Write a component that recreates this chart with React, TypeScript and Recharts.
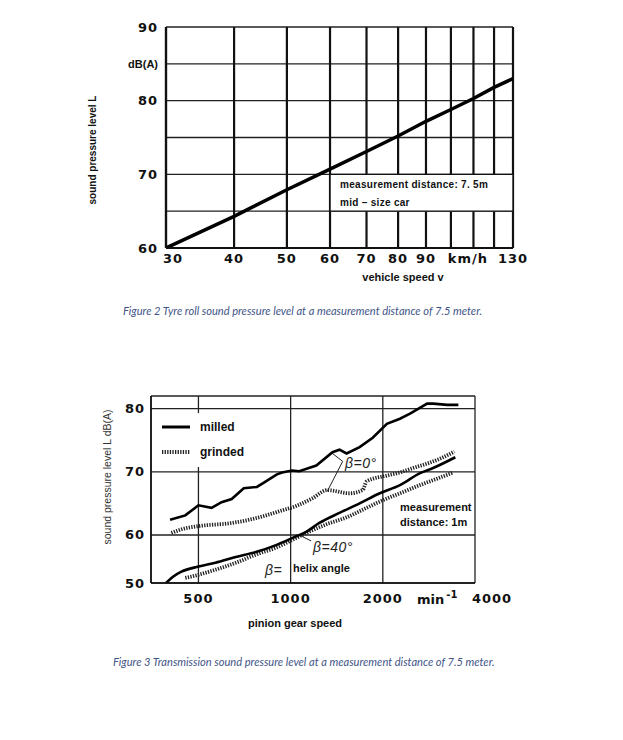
import React from 'react';
import { LineChart, Line, XAxis, YAxis, CartesianGrid, ReferenceArea, ReferenceLine } from 'recharts';

// Figure 2 - tyre roll noise vs vehicle speed
const vehicleSpeed = [30, 40, 50, 60, 70, 80, 90, 100, 110, 120, 130];
const tyreLevel = [60, 64.3, 67.9, 70.7, 73.1, 75.2, 77.2, 78.8, 80.3, 81.8, 83.0];
const speedTicks = [30, 40, 50, 60, 70, 80, 90, 100, 110, 120, 130];
const speedTickLabels = ['30', '40', '50', '60', '70', '80', '90', 'km/h', '', '', '130'];
const tyreLevelTicks = [60, 65, 70, 75, 80, 85, 90];
const tyreLevelTickLabels = ['60', '', '70', '', '80', 'dB(A)', '90'];

// Figure 3 - transmission noise vs pinion gear speed
const milled0Speed = [404, 453, 500, 552, 595, 642, 703, 776, 818, 902, 938, 1011, 1067, 1213, 1370, 1444, 1523, 1680, 1854, 2062, 2275, 2454, 2791, 2920, 3247, 3530];
const milled0Level = [62.4, 63.1, 64.7, 64.3, 65.2, 65.7, 67.4, 67.6, 68.3, 69.6, 69.9, 70.2, 70.1, 71.0, 73.1, 73.5, 72.9, 73.9, 75.4, 77.6, 78.4, 79.2, 80.8, 80.8, 80.6, 80.6];
const grinded0Speed = [408, 440, 500, 642, 730, 831, 938, 1043, 1177, 1317, 1557, 1718, 1772, 2062, 2275, 2510, 2791, 3080, 3425];
const grinded0Level = [60.3, 60.9, 61.4, 61.9, 62.4, 63.1, 63.9, 64.6, 65.8, 67.1, 66.6, 67.1, 68.5, 69.4, 69.9, 70.6, 71.3, 72.1, 73.2];
const milled40Speed = [392, 413, 440, 500, 568, 662, 770, 896, 1011, 1124, 1241, 1444, 1680, 1955, 2275, 2647, 2920, 3450];
const milled40Level = [52.4, 53.4, 54.2, 55.0, 55.6, 56.5, 57.3, 58.4, 59.5, 60.5, 61.9, 63.5, 65.0, 66.6, 67.9, 69.8, 70.6, 72.3];
const grinded40Speed = [453, 500, 568, 662, 770, 896, 1011, 1124, 1309, 1523, 1772, 2000, 2275, 2647, 3080, 3400];
const grinded40Level = [53.2, 53.7, 54.5, 55.6, 56.9, 58.0, 59.2, 60.3, 61.7, 62.8, 64.3, 65.5, 66.6, 67.9, 69.1, 69.9];
const gearTicks = [500, 1000, 2000, 4000];
const gearTickLabels = ['500', '1000', '2000', '4000'];
const gearLevelTicks = [52.4, 60, 70, 80, 82];
const gearLevelTickLabels = ['50', '60', '70', '80', ''];

// leader lines of the beta annotations (data coordinates)
const beta0LeaderA = [{ x: 1370, y: 72.9 }, { x: 1479, y: 71.65 }];
const beta0LeaderB = [{ x: 1479, y: 71.65 }, { x: 1317, y: 66.9 }];
const beta40Leader = [{ x: 1067, y: 60 }, { x: 1167, y: 59.05 }];

const rows = (xs: number[], ys: number[]) => xs.map((x, i) => ({ x, y: ys[i] }));
const tyreRows = rows(vehicleSpeed, tyreLevel);

const tickStyle: React.CSSProperties = {
  fontFamily: '"DejaVu Sans", sans-serif',
  fontWeight: 'bold',
  fontSize: 13,
  letterSpacing: 1,
  fill: '#111',
};

const SpeedTick = (props: any) => {
  const { x, y, payload } = props;
  const label = speedTickLabels[speedTicks.indexOf(payload.value)];
  if (!label) return <g />;
  const dx = label === 'km/h' ? 17 : label === '30' ? 7 : 0;
  return (
    <text x={x + dx} y={y + 10} textAnchor="middle" dominantBaseline="central" style={tickStyle}>
      {label}
    </text>
  );
};

const TyreLevelTick = (props: any) => {
  const { x, y, payload } = props;
  const label = tyreLevelTickLabels[tyreLevelTicks.indexOf(payload.value)];
  if (!label) return <g />;
  const style = label === 'dB(A)' ? { ...tickStyle, fontFamily: '"Liberation Sans", Arial', fontSize: 11, letterSpacing: 0 } : tickStyle;
  return (
    <text x={x - 8} y={y} textAnchor="end" dominantBaseline="central" style={style}>
      {label}
    </text>
  );
};

const GearTick = (props: any) => {
  const { x, y, payload } = props;
  const label = gearTickLabels[gearTicks.indexOf(payload.value)];
  const dx = label === '4000' ? 17 : 0;
  return (
    <text x={x + dx} y={y + 15} textAnchor="middle" dominantBaseline="central" style={tickStyle}>
      {label}
    </text>
  );
};

const GearLevelTick = (props: any) => {
  const { x, y, payload } = props;
  const label = gearLevelTickLabels[gearLevelTicks.indexOf(payload.value)];
  if (!label) return <g />;
  return (
    <text x={x - 6} y={y} textAnchor="end" dominantBaseline="central" style={tickStyle}>
      {label}
    </text>
  );
};

// absolutely placed text, page coordinates (body margin is 8px)
const Txt = ({ x, y, children, style, center, rotate }: any) => (
  <div
    style={{
      position: 'absolute',
      left: x - 8,
      top: y - 8,
      whiteSpace: 'nowrap',
      lineHeight: 1,
      transform: `translate(${center ? '-50%' : '0'}, -50%)${rotate ? ' rotate(-90deg)' : ''}`,
      ...style,
    }}
  >
    {children}
  </div>
);

const bold = { fontWeight: 'bold', color: '#111' };
const caption = { fontFamily: 'Lato, sans-serif', fontStyle: 'italic', fontSize: 11.1, color: '#3f5587' };
const beta = { fontFamily: '"Liberation Sans", Arial', fontStyle: 'italic', fontSize: 14, color: '#222', letterSpacing: 0.5 };
const hatch = { stroke: '#222', strokeWidth: 3.8, strokeDasharray: '1.3 1.3' };

export default function App() {
  return (
    <div style={{ position: 'relative', width: 607, height: 724, fontFamily: '"Liberation Sans", Arial, sans-serif' }}>
      <div style={{ position: 'absolute', left: 0, top: 0 }}>
        <LineChart width={607} height={300} margin={{ top: 19, right: 102, bottom: 30, left: 118 }}>
          <CartesianGrid vertical={false} stroke="#222" strokeWidth={1.4} />
          <CartesianGrid horizontal={false} stroke="#111" strokeWidth={2.2} />
          <XAxis
            dataKey="x"
            type="number"
            scale="log"
            domain={[30, 130]}
            allowDataOverflow
            ticks={speedTicks}
            interval={0}
            tick={<SpeedTick />}
            tickSize={0}
            tickMargin={0}
            height={30}
            axisLine={{ stroke: '#111', strokeWidth: 2.2 }}
          />
          <YAxis
            type="number"
            domain={[60, 90]}
            allowDataOverflow
            ticks={tyreLevelTicks}
            interval={0}
            tick={<TyreLevelTick />}
            tickSize={0}
            tickMargin={0}
            width={40}
            axisLine={{ stroke: '#111', strokeWidth: 2.2 }}
          />
          <ReferenceArea x1={60} x2={130} y1={65} y2={70} fill="#fff" fillOpacity={1} stroke="#111" strokeWidth={1.4} />
          <Line data={tyreRows} dataKey="y" type="linear" stroke="#000" strokeWidth={3.5} dot={false} isAnimationActive={false} />
        </LineChart>
      </div>

      <div style={{ position: 'absolute', left: 0, top: 322 }}>
        <LineChart width={607} height={300} margin={{ top: 66, right: 140, bottom: 22, left: 103 }}>
          <CartesianGrid stroke="#222" strokeWidth={1.3} />
          <XAxis
            dataKey="x"
            type="number"
            scale="log"
            domain={[350, 4000]}
            allowDataOverflow
            ticks={gearTicks}
            interval={0}
            tick={<GearTick />}
            tickSize={0}
            tickMargin={0}
            height={25}
            axisLine={{ stroke: '#111', strokeWidth: 1.6 }}
          />
          <YAxis
            type="number"
            domain={[52.4, 82]}
            allowDataOverflow
            ticks={gearLevelTicks}
            interval={0}
            tick={<GearLevelTick />}
            tickSize={0}
            tickMargin={0}
            width={40}
            axisLine={{ stroke: '#111', strokeWidth: 1.6 }}
          />
          <ReferenceLine segment={beta0LeaderA} stroke="#222" strokeWidth={1} />
          <ReferenceLine segment={beta0LeaderB} stroke="#222" strokeWidth={1} />
          <ReferenceLine segment={beta40Leader} stroke="#222" strokeWidth={1} />
          <Line data={rows(grinded0Speed, grinded0Level)} dataKey="y" type="monotone" {...hatch} dot={false} isAnimationActive={false} />
          <Line data={rows(grinded40Speed, grinded40Level)} dataKey="y" type="monotone" {...hatch} dot={false} isAnimationActive={false} />
          <Line data={rows(milled0Speed, milled0Level)} dataKey="y" type="linear" stroke="#000" strokeWidth={2.6} dot={false} isAnimationActive={false} />
          <Line data={rows(milled40Speed, milled40Level)} dataKey="y" type="monotone" stroke="#000" strokeWidth={2.6} dot={false} isAnimationActive={false} />
        </LineChart>
      </div>

      {/* figure 2 texts */}
      <Txt x={93} y={150} center rotate style={{ ...bold, fontSize: 10 }}>sound pressure level L</Txt>
      <Txt x={403} y={277} center style={{ ...bold, fontSize: 11 }}>vehicle speed v</Txt>
      <Txt x={340} y={185} style={{ ...bold, fontSize: 10, letterSpacing: 0.3 }}>measurement distance: 7. 5m</Txt>
      <Txt x={340} y={203} style={{ ...bold, fontSize: 10, letterSpacing: 0.3 }}>mid – size car</Txt>
      <Txt x={123} y={311} style={caption}>Figure 2 Tyre roll sound pressure level at a measurement distance of 7.5 meter.</Txt>

      {/* figure 3 texts */}
      <Txt x={107} y={477} center rotate style={{ fontSize: 10.5, color: '#333' }}>sound pressure level L dB(A)</Txt>
      <div style={{ position: 'absolute', left: 156 - 8, top: 413 - 8, width: 88, height: 54, background: '#fff' }}>
        <svg width={40} height={54} style={{ position: 'absolute', left: 0, top: 0 }}>
          <line x1={6} y1={14} x2={34} y2={14} stroke="#000" strokeWidth={3} />
          <line x1={6} y1={39} x2={34} y2={39} {...hatch} />
        </svg>
      </div>
      <Txt x={200} y={427} style={{ ...bold, fontSize: 12 }}>milled</Txt>
      <Txt x={200} y={452} style={{ ...bold, fontSize: 12 }}>grinded</Txt>
      <Txt x={345} y={463} style={beta}>β=0°</Txt>
      <Txt x={313} y={547} style={beta}>β=40°</Txt>
      <Txt x={265} y={570} style={beta}>β=</Txt>
      <Txt x={293} y={568} style={{ ...bold, fontSize: 11 }}>helix angle</Txt>
      <Txt x={400} y={507} style={{ ...bold, fontSize: 11 }}>measurement</Txt>
      <Txt x={400} y={522} style={{ ...bold, fontSize: 11 }}>distance: 1m</Txt>
      <Txt x={417} y={598} style={{ fontFamily: '"DejaVu Sans", sans-serif', fontWeight: 'bold', fontSize: 13, color: '#111' }}>
        min<sup style={{ fontSize: 10, verticalAlign: 6, marginLeft: 2 }}>-1</sup>
      </Txt>
      <Txt x={295} y={623} center style={{ ...bold, fontSize: 11 }}>pinion gear speed</Txt>
      <Txt x={113} y={662} style={caption}>Figure 3 Transmission sound pressure level at a measurement distance of 7.5 meter.</Txt>
    </div>
  );
}
